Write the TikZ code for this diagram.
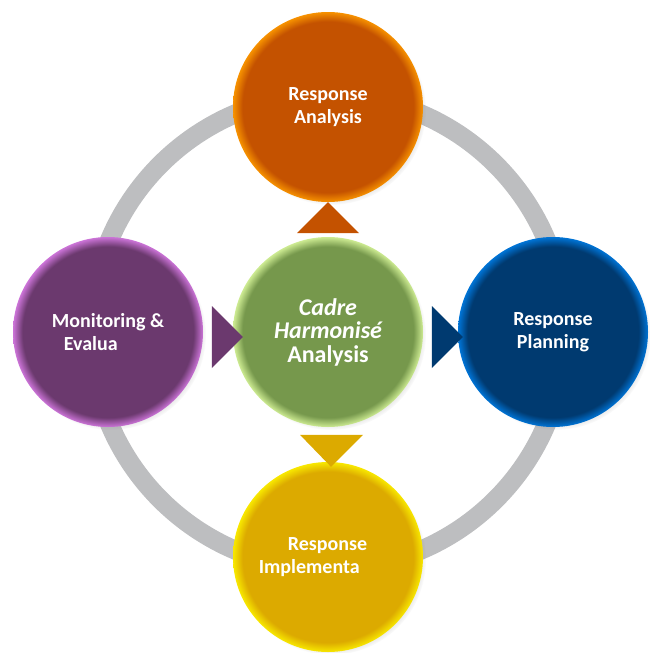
\documentclass[tikz,border=0pt]{standalone}
\usepackage{fontspec}
\setmainfont{Carlito}
\usetikzlibrary{shadows,calc}

\definecolor{ringgray}{HTML}{BDBEC0}
\definecolor{orangefill}{HTML}{C45200}
\definecolor{orangerim}{HTML}{F79200}
\definecolor{purplefill}{HTML}{6B396E}
\definecolor{purplerim}{HTML}{CC74D8}
\definecolor{greenfill}{HTML}{76984C}
\definecolor{greenrim}{HTML}{CDEB92}
\definecolor{bluefill}{HTML}{003A70}
\definecolor{bluerim}{HTML}{0074D6}
\definecolor{yellowfill}{HTML}{DCAA00}
\definecolor{yellowrim}{HTML}{F8E800}

% inner glow: flat colour, bright rim at the edge
% (the path radius is 25bp of the shading)
\newcommand\glow[3]{\colorlet{#1mid}{#3!60!#2}%
    \pgfdeclareradialshading{#1}{\pgfpoint{0bp}{0bp}}%
    {color(0bp)=(#2); color(22.5bp)=(#2); color(24bp)=(#1mid);
     color(25bp)=(#3); color(50bp)=(#3)}}
\glow{orangeglow}{orangefill}{orangerim}
\glow{purpleglow}{purplefill}{purplerim}
\glow{greenglow}{greenfill}{greenrim}
\glow{blueglow}{bluefill}{bluerim}
\glow{yellowglow}{yellowfill}{yellowrim}

\tikzset{
    stage/.style =  {circle,
                    minimum size=190pt,
                    inner sep=0pt,
                    shading=#1,
                    circular drop shadow={shadow xshift=3pt,
                                          shadow yshift=-3pt,
                                          shadow scale=1,
                                          opacity=0.45},
                    text=white,
                    align=center,
                    font=\bfseries\fontsize{20}{22.5}\selectfont},
    hubtext/.style = {font=\bfseries\fontsize{24}{23.5}\selectfont},
    pointer/.style = {fill=#1},
    ring/.style =   {draw=ringgray,
                    line width=19pt},
    node distance=225pt}

\begin{document}
\begin{tikzpicture}[x=1pt,y=-1pt]
    \useasboundingbox (0,0) rectangle (650,653);
    \coordinate (hub) at (328,332);
    \draw[ring] (hub) circle (237);

    \node[stage=greenglow,hubtext] (ch) at (hub)
        {\itshape Cadre\\\itshape Harmonisé\\Analysis};
    \node[stage=orangeglow]  (ra) [above of=ch] {Response\\Analysis};
    \node[stage=blueglow]    (rp) [right of=ch] {Response\\Planning};
    \node[stage=yellowglow]  (ri) [below of=ch, align=left]
        {\hspace*{29pt}Response\hspace*{30pt}\\Implementa};
    \node[stage=purpleglow]  (me) [left of=ch, node distance=220pt, align=left]
        {Monitoring \&\\\hspace*{12pt}Evalua};

    % pointers between the stages
    \fill[pointer=orangefill] (ra.south) -- ++(31,31) -- ++(-62,0) -- cycle;
    \fill[pointer=yellowfill] ($(ri.north)+(3,5)$) -- ++(-31,-32) -- ++(63,0) -- cycle;
    \fill[pointer=purplefill] ($(ch.west)+(10,5)$) -- ++(-31,-31) -- ++(0,62) -- cycle;
    \fill[pointer=bluefill]   ($(rp.west)+(5,5)$) -- ++(-31,-31) -- ++(0,62) -- cycle;
\end{tikzpicture}
\end{document}
